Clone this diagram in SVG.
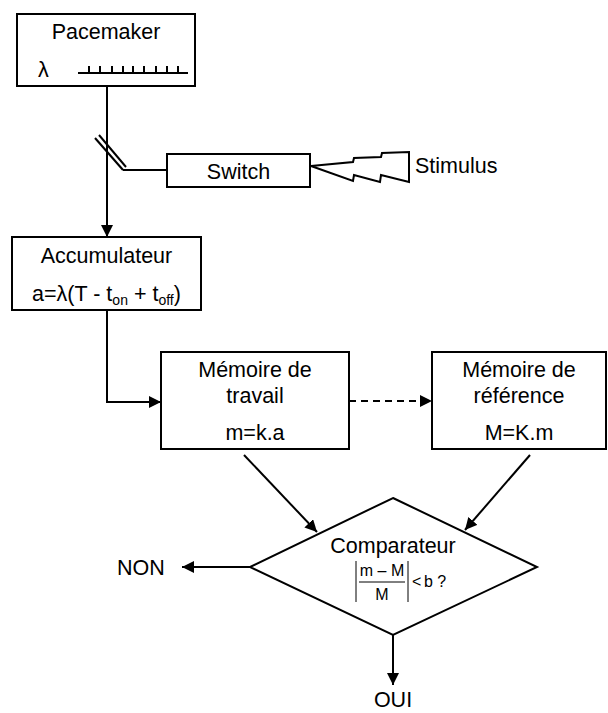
<svg xmlns="http://www.w3.org/2000/svg" width="608" height="713" viewBox="0 0 608 713">
<defs>
<marker id="ah" viewBox="0 0 12 12" refX="12" refY="6" markerWidth="12" markerHeight="12" markerUnits="userSpaceOnUse" orient="auto">
<path d="M0,0 L12,6 L0,12 z" fill="#000"/>
</marker>
<style>
.box{fill:#fff;stroke:#000;stroke-width:2}
.ln{fill:none;stroke:#000;stroke-width:2}
.t{font-family:"Liberation Sans",Arial,sans-serif;font-size:21.5px;fill:#000}
.c{text-anchor:middle}
.f{font-family:"Liberation Sans",Arial,sans-serif;font-size:16px;fill:#000}
</style>
</defs>
<rect width="608" height="713" fill="#fff"/>

<g id="connectors">
<line class="ln" x1="107" y1="86" x2="107" y2="237" marker-end="url(#ah)"/>
<line class="ln" x1="95" y1="138" x2="123" y2="170" stroke-width="1.5"/>
<line class="ln" x1="99" y1="135" x2="126" y2="167" stroke-width="1.5"/>
<line class="ln" x1="123" y1="170" x2="167" y2="170"/>
<polyline class="ln" points="107,310 107,402 161,402" marker-end="url(#ah)"/>
<line class="ln" x1="349" y1="401" x2="432" y2="401" stroke-dasharray="7,5" marker-end="url(#ah)"/>
<line class="ln" x1="244" y1="455" x2="317" y2="532" marker-end="url(#ah)"/>
<line class="ln" x1="530" y1="455" x2="465" y2="530" marker-end="url(#ah)"/>
<line class="ln" x1="250" y1="567" x2="182" y2="567" marker-end="url(#ah)"/>
<line class="ln" x1="393" y1="635" x2="393" y2="685" marker-end="url(#ah)"/>
</g>

<g id="pacemaker">
<rect class="box" x="17" y="14" width="178" height="72"/>
<text class="t c" x="106" y="39">Pacemaker</text>
<text class="t" x="38" y="77" font-size="19">λ</text>
<path class="ln" d="M78,73 H188 M89,66 V73 M100,66 V73 M112,66 V73 M123,66 V73 M133,66 V73 M144,66 V73 M156,66 V73 M167,66 V73 M178,66 V73"/>
</g>

<g id="switch">
<rect class="box" x="167" y="154" width="143" height="33"/>
<text class="t c" x="238.5" y="179">Switch</text>
</g>

<g id="stimulus">
<path class="ln" stroke-width="1.8" stroke-linejoin="miter" d="M311,166 L353,162 L354,158 L381,157 L382,153 L409,152 L409,182 L381,175 L380,182 L354,175 L353,181 Z"/>
<text class="t" x="415" y="173">Stimulus</text>
</g>

<g id="accumulateur">
<rect class="box" x="12" y="237" width="189" height="73"/>
<text class="t c" x="106.5" y="263">Accumulateur</text>
<text class="t c" x="106.5" y="301">a=λ(T - t<tspan font-size="14" dy="4">on</tspan><tspan dy="-4"> + t</tspan><tspan font-size="14" dy="4">off</tspan><tspan dy="-4">)</tspan></text>
</g>

<g id="memoire-travail">
<rect class="box" x="161" y="352" width="188" height="97"/>
<text class="t c" x="255" y="377">Mémoire de</text>
<text class="t c" x="255" y="403">travail</text>
<text class="t c" x="255" y="440">m=k.a</text>
</g>

<g id="memoire-reference">
<rect class="box" x="432" y="352" width="174" height="97"/>
<text class="t c" x="519" y="377">Mémoire de</text>
<text class="t c" x="519" y="403">référence</text>
<text class="t c" x="519" y="440">M=K.m</text>
</g>

<g id="comparateur">
<polygon class="box" points="393,498 537,567 393,635 250,567"/>
<text class="t c" x="393" y="553">Comparateur</text>
<line x1="356" y1="561" x2="356" y2="602" stroke="#000" stroke-width="1"/>
<line x1="408" y1="561" x2="408" y2="602" stroke="#000" stroke-width="1"/>
<text class="f c" x="382" y="576">m – M</text>
<line x1="359" y1="582" x2="405" y2="582" stroke="#000" stroke-width="1"/>
<text class="f c" x="382" y="600">M</text>
<text class="f" x="412" y="587" fill="#999">&lt;</text>
<text class="f" x="424" y="587">b ?</text>
</g>

<g id="non">
<text class="t" x="117" y="575">NON</text>
</g>

<g id="oui">
<text class="t c" x="393" y="707">OUI</text>
</g>
</svg>
